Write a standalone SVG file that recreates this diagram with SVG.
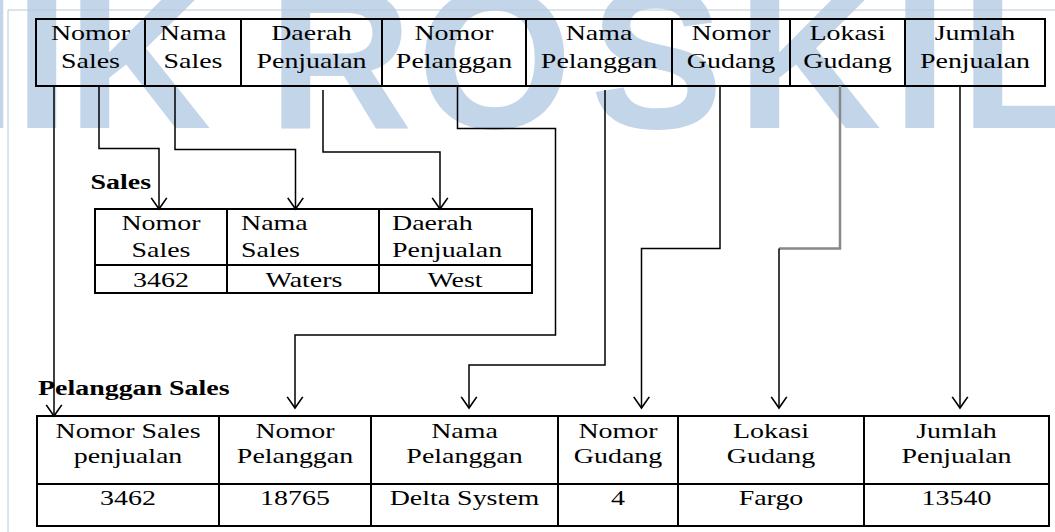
<svg xmlns="http://www.w3.org/2000/svg" width="1055" height="532" viewBox="0 0 1055 532">
<style>
.wm{font-family:"Liberation Sans",Arial,sans-serif;font-weight:bold;font-size:200px;fill:#c3d5e9}
.t{font-family:"Liberation Serif","Times New Roman",serif;font-size:22px;fill:#000;text-anchor:middle}
.s{text-anchor:start}
.b{font-family:"Liberation Serif","Times New Roman",serif;font-size:22px;font-weight:bold;fill:#000}
.tb{fill:none;stroke:#000;stroke-width:2}
.c{fill:none;stroke:#000;stroke-width:1.5}
.g{fill:none;stroke:#888;stroke-width:2.5}
</style>
<defs>
<marker id="ah" markerUnits="userSpaceOnUse" markerWidth="20" markerHeight="20" viewBox="-12 -9 14 18" refX="0" refY="0" orient="auto">
<path d="M-10,-7 L0,0 L-10,7" fill="none" stroke="#000" stroke-width="1.5"/>
</marker>
</defs>
<rect width="1055" height="532" fill="#fff"/>
<text class="wm" x="-150 14 67 268 417 590 737 892 960" y="128">MIKROSKIL</text>
<path d="M8,532 V10 H1055" fill="none" stroke="#b8c8d8" stroke-width="1"/>

<g id="tabel-utama">
<rect class="tb" x="36" y="19" width="1009" height="67"/>
<path class="tb" d="M145,19V86M241,19V86M382,19V86M526,19V86M672,19V86M790,19V86M905,19V86"/>
<text class="t" transform="translate(90.5,40) scale(1.27,1)">Nomor</text>
<text class="t" transform="translate(90.5,68) scale(1.27,1)">Sales</text>
<text class="t" transform="translate(193,40) scale(1.27,1)">Nama</text>
<text class="t" transform="translate(193,68) scale(1.27,1)">Sales</text>
<text class="t" transform="translate(311.5,40) scale(1.27,1)">Daerah</text>
<text class="t" transform="translate(311.5,68) scale(1.27,1)">Penjualan</text>
<text class="t" transform="translate(454,40) scale(1.27,1)">Nomor</text>
<text class="t" transform="translate(454,68) scale(1.27,1)">Pelanggan</text>
<text class="t" transform="translate(599,40) scale(1.27,1)">Nama</text>
<text class="t" transform="translate(599,68) scale(1.27,1)">Pelanggan</text>
<text class="t" transform="translate(731,40) scale(1.27,1)">Nomor</text>
<text class="t" transform="translate(731,68) scale(1.27,1)">Gudang</text>
<text class="t" transform="translate(847.5,40) scale(1.27,1)">Lokasi</text>
<text class="t" transform="translate(847.5,68) scale(1.27,1)">Gudang</text>
<text class="t" transform="translate(975,40) scale(1.27,1)">Jumlah</text>
<text class="t" transform="translate(975,68) scale(1.27,1)">Penjualan</text>
</g>

<g id="tabel-sales">
<text class="b" transform="translate(90.5,189) scale(1.27,1)">Sales</text>
<rect class="tb" x="95" y="209" width="437" height="84"/>
<path class="tb" d="M227,209V293M379,209V293M95,265H532"/>
<text class="t" transform="translate(161,230) scale(1.27,1)">Nomor</text>
<text class="t" transform="translate(161,257) scale(1.27,1)">Sales</text>
<text class="t s" transform="translate(241,230) scale(1.27,1)">Nama</text>
<text class="t s" transform="translate(241,257) scale(1.27,1)">Sales</text>
<text class="t s" transform="translate(392,230) scale(1.27,1)">Daerah</text>
<text class="t s" transform="translate(392,257) scale(1.27,1)">Penjualan</text>
<text class="t" transform="translate(161,287) scale(1.27,1)">3462</text>
<text class="t" transform="translate(304,287) scale(1.27,1)">Waters</text>
<text class="t" transform="translate(455,287) scale(1.27,1)">West</text>
</g>

<g id="tabel-pelanggan-sales">
<text class="b" transform="translate(38,395) scale(1.27,1)">Pelanggan Sales</text>
<rect class="tb" x="37" y="416" width="1012" height="110"/>
<path class="tb" d="M219,416V526M371,416V526M558,416V526M678,416V526M864,416V526M37,484H1049"/>
<text class="t" transform="translate(128,438) scale(1.27,1)">Nomor Sales</text>
<text class="t" transform="translate(128,463) scale(1.27,1)">penjualan</text>
<text class="t" transform="translate(295,438) scale(1.27,1)">Nomor</text>
<text class="t" transform="translate(295,463) scale(1.27,1)">Pelanggan</text>
<text class="t" transform="translate(464.5,438) scale(1.27,1)">Nama</text>
<text class="t" transform="translate(464.5,463) scale(1.27,1)">Pelanggan</text>
<text class="t" transform="translate(618,438) scale(1.27,1)">Nomor</text>
<text class="t" transform="translate(618,463) scale(1.27,1)">Gudang</text>
<text class="t" transform="translate(771,438) scale(1.27,1)">Lokasi</text>
<text class="t" transform="translate(771,463) scale(1.27,1)">Gudang</text>
<text class="t" transform="translate(956.5,438) scale(1.27,1)">Jumlah</text>
<text class="t" transform="translate(956.5,463) scale(1.27,1)">Penjualan</text>
<text class="t" transform="translate(128,505) scale(1.27,1)">3462</text>
<text class="t" transform="translate(295,505) scale(1.27,1)">18765</text>
<text class="t" transform="translate(464.5,505) scale(1.27,1)">Delta System</text>
<text class="t" transform="translate(618,505) scale(1.27,1)">4</text>
<text class="t" transform="translate(771,505) scale(1.27,1)">Fargo</text>
<text class="t" transform="translate(956.5,505) scale(1.27,1)">13540</text>
</g>

<g id="connectors">
<path class="c" d="M54,86 V416" marker-end="url(#ah)"/>
<path class="c" d="M99,86 V148.5 H159 V209" marker-end="url(#ah)"/>
<path class="c" d="M175,86 V149.5 H295.5 V209" marker-end="url(#ah)"/>
<path class="c" d="M323,90 V152 H440 V209" marker-end="url(#ah)"/>
<path class="c" d="M457.5,86 V128.5 H555.5 V335 H295 V408" marker-end="url(#ah)"/>
<path class="c" d="M605,90 V365 H469 V408" marker-end="url(#ah)"/>
<path class="c" d="M720,86 V248.5 H641.5 V408" marker-end="url(#ah)"/>
<path class="g" d="M840,86 V248.5 H779"/>
<path class="c" d="M779,248.5 V408" marker-end="url(#ah)"/>
<path class="c" d="M960,86 V408" marker-end="url(#ah)"/>
</g>
</svg>
